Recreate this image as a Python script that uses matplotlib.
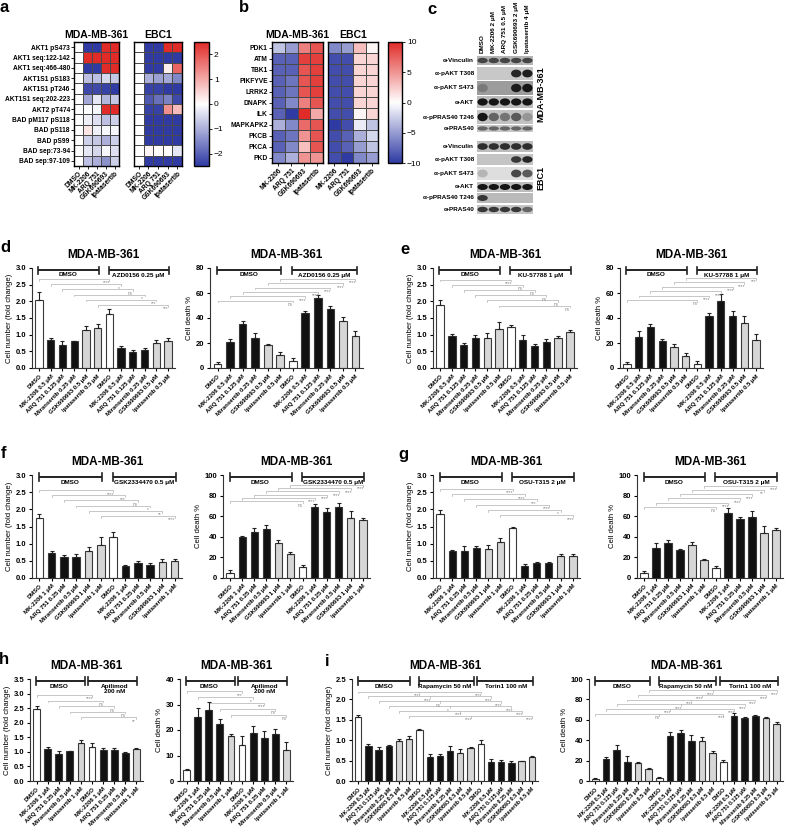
import numpy as np
import matplotlib
matplotlib.use('Agg')
import matplotlib.pyplot as plt
from matplotlib.colors import LinearSegmentedColormap
from matplotlib.patches import Rectangle, Ellipse

plt.rcParams['font.family'] = ['Liberation Sans', 'DejaVu Sans']
plt.rcParams['font.weight'] = 'bold'
plt.rcParams['axes.linewidth'] = 0.8

# ---------------- data ----------------
a_rows = ['AKT1 pS473', 'AKT1 seq:122-142', 'AKT1 seq:466-480', 'AKT1S1 pS183',
          'AKT1S1 pT246', 'AKT1S1 seq:202-223', 'AKT2 pT474', 'BAD pM117 pS118',
          'BAD pS118', 'BAD pS99', 'BAD sep:73-94', 'BAD sep:97-109']
a_cols = ['DMSO', 'MK-2206', 'ARQ 751', 'GSK690693', 'Ipatasertib']
a_mda = [[0, -2.5, -2.5, 2.5, 2.5],
         [0, 2.5, 2.5, 2.5, 2.5],
         [0, -2.5, -2.5, 2.5, 2.5],
         [0, -0.8, -0.8, -0.5, -0.7],
         [0, -2.3, -2.3, -2.4, -2.5],
         [0, -1.1, -0.3, -0.9, -0.7],
         [0, 0.0, -0.1, 2.5, 2.5],
         [0, -0.2, -0.4, -0.8, -0.6],
         [0, 0.3, -0.2, -0.1, -0.1],
         [0, -0.6, -0.7, -1.0, -0.6],
         [0, -0.3, -0.5, -0.1, -0.4],
         [0, -0.8, -1.0, -1.4, -0.6]]
a_ebc = [[0, -2.5, -2.5, 2.5, 2.5],
         [0, -2.5, -2.5, -2.5, -2.5],
         [0, -2.5, -2.5, 0.2, 1.8],
         [0, -1.0, -1.2, -1.1, -1.5],
         [0, -2.4, -2.4, -2.5, -2.5],
         [0, -2.1, -1.8, -1.6, -2.3],
         [0, -2.4, -2.4, 1.3, 0.8],
         [0, -2.5, -2.5, -2.5, -2.5],
         [0, -2.5, -2.5, -2.5, -2.5],
         [0, -2.5, -2.5, -2.5, -2.5],
         [0, 0.1, 0.05, 0.0, -0.3],
         [0, -2.5, -2.5, -2.5, -2.5]]

b_rows = ['PDK1', 'ATM', 'TBK1', 'PIKFYVE', 'LRRK2', 'DNAPK', 'ILK', 'MAPKAPK2', 'PKCB', 'PKCA', 'PKD']
b_cols = ['MK-2206', 'ARQ 751', 'GSK690693', 'Ipatasertib']
b_mda = [[-3, -5, 6, 8], [-8, -8, 9, 9], [-8, -8, 8, 9], [-8, -7, 8, 9], [-8, -7, 8, 9],
         [-8, -6, 6, 8], [-8, -10, 10, 4], [-4, -6, 7, 8], [-8, -7, 5, 8], [-8, -6, 3, 8],
         [-6, -4, 5, 5]]
b_ebc = [[-6, -5, 3, 0.5], [-9, -9, 2, 2], [-9, -9, 2, 2], [-9, -9, 2, 2], [-9, -9, 2, 2],
         [-9, -9, 2, 2], [-9, -9, 0.5, 2], [-10, -9, -1, -3], [-9, -8, -4, -2],
         [-9, -8, -5, -3], [-9, -10, -6, -5]]

blot_rows = ['α-Vinculin', 'α-pAKT T308', 'α-pAKT S473', 'α-AKT', 'α-pPRAS40 T246', 'α-PRAS40']
blot_lanes = ['DMSO', 'MK-2206 2 μM', 'ARQ 751 0.5 μM', 'GSK690693 2 μM', 'Ipatasertib 4 μM']
mda_bands = [[0.7, 0.7, 0.7, 0.7, 0.7], [0, 0, 0, 0.9, 0.95], [0.25, 0, 0, 0.95, 1.0],
             [1, 1, 1, 1, 1], [1, 0.55, 0.45, 0.6, 0.25], [0.55, 0.55, 0.55, 0.55, 0.55]]
ebc_bands = [[0.85, 0.85, 0.85, 0.85, 0.85], [0, 0, 0, 0.8, 0.9], [0.2, 0, 0, 0.75, 0.65],
             [1, 1, 1, 1, 1], [0.8, 0, 0, 0, 0], [0.8, 0.8, 0.8, 0.8, 0.55]]

names_05 = ['DMSO', 'MK-2206 0.5 μM', 'ARQ 751 0.125 μM', 'Miransertib 0.25 μM',
            'GSK690693 0.5 μM', 'Ipatasertib 0.5 μM']
names_1 = ['DMSO', 'MK-2206 1 μM', 'ARQ 751 0.25 μM', 'Miransertib 0.5 μM',
           'GSK690693 1 μM', 'Ipatasertib 1 μM']
names_h = ['DMSO', 'MK-2206 1 μM', 'ARQ 751 0.25 μM', 'Miransertib 0.5 μM', 'Ipatasertib 1 μM']
kinds_6 = ['w', 'k', 'k', 'k', 'g', 'g']
kinds_5 = ['w', 'k', 'k', 'k', 'g']

d_num = [2.05, 0.85, 0.70, 0.80, 1.15, 1.20, 1.63, 0.60, 0.48, 0.53, 0.75, 0.80]
d_num_err = [0.22, 0.05, 0.10, 0.02, 0.10, 0.12, 0.13, 0.06, 0.05, 0.06, 0.09, 0.10]
d_num_sig = ['****', '*', 'ns', '*', '***', '***']
d_death = [3, 21, 35, 24, 18.5, 10.5, 5.5, 44, 56, 47, 38, 26]
d_death_err = [2, 2.5, 3, 4, 0.5, 2, 2.5, 2, 2.5, 3, 3, 4]
d_death_sig = ['ns', '****', '****', '****', '****', '****']
d_groups = ['DMSO', 'AZD0156 0.25 μM']

e_num = [1.88, 0.95, 0.70, 0.90, 0.91, 1.18, 1.22, 0.83, 0.65, 0.77, 0.90, 1.07]
e_num_err = [0.15, 0.07, 0.06, 0.10, 0.13, 0.20, 0.06, 0.17, 0.08, 0.10, 0.05, 0.07]
e_num_sig = ['****', 'ns', 'ns', 'ns', 'ns', 'ns']
e_death = [3.5, 25, 32.5, 21.5, 16.5, 10, 3.5, 41.5, 54, 42, 36, 22.5]
e_death_err = [1, 4.5, 3, 2, 3, 2, 2, 2.5, 5.5, 4, 5.5, 4.5]
e_death_sig = ['ns', '****', '****', '****', '****', '***']
e_groups = ['DMSO', 'KU-57788 1 μM']

f_num = [1.75, 0.72, 0.62, 0.62, 0.80, 0.96, 1.20, 0.35, 0.43, 0.37, 0.46, 0.50]
f_num_err = [0.10, 0.08, 0.04, 0.07, 0.09, 0.23, 0.15, 0.04, 0.07, 0.08, 0.10, 0.06]
f_num_sig = ['****', '***', 'ns', '*', '**', '****']
f_death = [5, 39.5, 45, 47.5, 33.5, 23, 10.5, 68.5, 64, 68.5, 58, 56]
f_death_err = [2.5, 1, 4, 3.5, 3.5, 2.5, 2, 3.5, 3.5, 4.5, 7, 2.5]
f_death_sig = ['ns', '****', '****', '****', '****', '****']
f_groups = ['DMSO', 'GSK2334470 0.5 μM']

g_num = [1.85, 0.78, 0.78, 0.87, 0.85, 1.05, 1.45, 0.36, 0.45, 0.43, 0.64, 0.65]
g_num_err = [0.14, 0.04, 0.15, 0.07, 0.12, 0.12, 0.05, 0.05, 0.02, 0.03, 0.06, 0.04]
g_num_sig = ['****', '****', '***', '****', '*', '****']
g_death = [5, 29, 33.5, 27, 32.5, 17.5, 10, 63, 57, 59, 44, 47]
g_death_err = [1.5, 4.5, 3.5, 1, 2.5, 1, 2, 4.5, 2.5, 6, 6.5, 2]
g_death_sig = ['ns', '****', '****', '****', '**', '****']
g_groups = ['DMSO', 'OSU-T315 2 μM']

h_num = [2.48, 1.10, 0.93, 1.02, 1.32, 1.18, 1.06, 1.06, 0.97, 1.10]
h_num_err = [0.10, 0.06, 0.11, 0.02, 0.07, 0.12, 0.08, 0.08, 0.02, 0.03]
h_num_sig = ['****', 'ns', 'ns', 'ns', '**']
h_death = [4.3, 25, 28, 22.3, 17.5, 14.2, 19, 16.7, 18.5, 12.3]
h_death_err = [0.4, 3.5, 3, 2, 1, 3.3, 2.5, 3, 2, 2.8]
h_death_sig = ['***', '*', '****', 'ns', 'ns']
h_groups = ['DMSO', 'Apilimod\n200 nM']

i_num = [1.57, 0.87, 0.77, 0.85, 0.98, 1.03, 1.25, 0.60, 0.61, 0.73, 0.69, 0.81,
         0.90, 0.46, 0.47, 0.45, 0.48, 0.58]
i_num_err = [0.04, 0.03, 0.06, 0.04, 0.05, 0.08, 0.02, 0.05, 0.04, 0.12, 0.09, 0.03,
             0.10, 0.07, 0.04, 0.04, 0.02, 0.03]
i_num_sig_rapa = ['****', '****', 'ns', '*', '****', '****']
i_num_sig_torin = ['****', '****', '****', '****', '****', '****']
i_death = [2, 21.5, 30, 19, 17.5, 12, 3, 44.5, 47.5, 39, 39, 27, 18.5, 64, 61.5, 64, 62, 56]
i_death_err = [1, 2.5, 5, 6, 1.5, 0.5, 0.5, 3.5, 2.5, 6, 4.5, 2.5, 2, 2.5, 1.5, 1, 1, 2]
i_death_sig_rapa = ['ns', '****', '****', '****', '****', '****']
i_death_sig_torin = ['****', '****', '****', '****', '****', '****']
i_groups = ['DMSO', 'Rapamycin 50 nM', 'Torin1 100 nM']

# ---------------- figure ----------------
W, H = 788, 833
fig = plt.figure(figsize=(W / 100, H / 100), dpi=100)


def px(x0, y0, x1, y1):
    return [x0 / W, 1 - y1 / H, (x1 - x0) / W, (y1 - y0) / H]


cmap = LinearSegmentedColormap.from_list('bwr2', ['#2f3aa3', '#ffffff', '#e02b28'])


def heatmap(rect, vals, vmax, title, cols, rows=None):
    ax = fig.add_axes(px(*rect))
    m = ax.pcolormesh(np.array(vals, dtype=float), cmap=cmap, vmin=-vmax, vmax=vmax,
                      edgecolors='#4a4a4a', linewidth=0.6)
    ax.set_xlim(0, len(cols))
    ax.set_ylim(len(vals), 0)
    ax.set_xticks(np.arange(len(cols)) + 0.5)
    ax.set_xticklabels(cols, rotation=45, ha='right', rotation_mode='anchor', fontsize=4.8)
    if rows:
        ax.set_yticks(np.arange(len(rows)) + 0.5)
        ax.set_yticklabels(rows, fontsize=4.8)
    else:
        ax.set_yticks([])
    ax.tick_params(length=2, width=0.6, pad=1)
    ax.set_title(title, fontsize=7.5, weight='bold', pad=3)
    for s in ax.spines.values():
        s.set_linewidth(1.0)
    return m


def colorbar(mesh, rect, ticks):
    cax = fig.add_axes(px(*rect))
    cb = fig.colorbar(mesh, cax=cax, ticks=ticks)
    cb.ax.set_yticklabels([f'{t:g}'.replace('-', '\u2212') for t in ticks],
                          fontsize=6, weight='normal')
    cb.outline.set_linewidth(1.0)
    cb.ax.tick_params(length=2, width=0.6, pad=1.5)


# panel a
m = heatmap((74, 42, 119, 166), a_mda, 2.5, 'MDA-MB-361', a_cols, a_rows)
heatmap((134, 42, 182, 166), a_ebc, 2.5, 'EBC1', a_cols)
colorbar(m, (194, 42, 209, 166), [-2, -1, 0, 1, 2])

# panel b
m = heatmap((272, 42, 323, 163), b_mda, 10, 'MDA-MB-361', b_cols, b_rows)
heatmap((328, 42, 378, 163), b_ebc, 10, 'EBC1', b_cols)
colorbar(m, (388, 42, 402, 163), [-10, -5, 0, 5, 10])

# panel c: western blot
bx0, bx1 = 477, 533
ax = fig.add_axes(px(bx0, 55, bx1, 215))
ax.set_xlim(0, 5)
ax.set_ylim(215, 55)
ax.axis('off')
blocks = [(mda_bands, [(56, 65), (67, 80), (81, 95), (96, 108), (110, 124), (125, 132)],
           ['#b4b4b4', '#c8c8c8', '#9c9c9c', '#bcbcbc', '#c2c2c2', '#c6c6c6'], 'MDA-MB-361'),
          (ebc_bands, [(141, 152), (154, 165), (167, 180), (182, 192), (193, 203), (205, 214)],
           ['#bcbcbc', '#c4c4c4', '#dedede', '#bcbcbc', '#bababa', '#c6c6c6'], 'EBC1')]
for bands, strips, bgs, cell in blocks:
    for name, band, (t, b), bg in zip(blot_rows, bands, strips, bgs):
        ax.add_patch(Rectangle((0, t), 5, b - t, color=bg, lw=0))
        for l, v in enumerate(band):
            if v > 0:
                ax.add_patch(Ellipse((l + 0.5, (t + b) / 2), 0.92, (b - t) * 0.6,
                                     color='#151515', alpha=v, lw=0))
        fig.text((bx0 - 3) / W, 1 - (t + b) / 2 / H, name, ha='right', va='center', fontsize=4.6)
    mid = (strips[0][0] + strips[-1][1]) / 2
    fig.text((bx1 + 8) / W, 1 - mid / H, cell, rotation=90, ha='center', va='center', fontsize=6.5)
for l, name in enumerate(blot_lanes):
    fig.text((bx0 + (l + 0.5) * (bx1 - bx0) / 5) / W, 1 - 53 / H, name, rotation=90,
             ha='center', va='bottom', fontsize=4.6)

# bar panels
fills = {'w': 'white', 'k': '#111111', 'g': '#d6d6d6'}


def bar_panel(rect, vals, errs, names, kinds, groups, sigs, ymax, ystep, ylabel,
              y0, dy, joined=(), tick_fs=4.3):
    ax = fig.add_axes(px(*rect))
    n = len(vals)
    x = np.arange(n)
    ax.bar(x, vals, width=0.62, color=[fills[k] for k in kinds], edgecolor='#3a3a3a',
           lw=0.8, zorder=2)
    ax.errorbar(x, vals, yerr=[np.zeros(n), errs], fmt='none', ecolor='#222222',
                elinewidth=0.8, capsize=1.6, capthick=0.8, zorder=3)
    ax.set_xlim(-0.6, n - 0.4)
    ax.set_ylim(0, ymax)
    ticks = np.arange(0, ymax + ystep / 2, ystep)
    ax.set_yticks(ticks)
    ax.set_yticklabels([f'{t:.1f}' if ystep < 1 else f'{t:.0f}' for t in ticks], fontsize=5.5)
    ax.set_xticks(x)
    ax.set_xticklabels(names, rotation=45, ha='right', rotation_mode='anchor', fontsize=tick_fs)
    ax.tick_params(length=2.5, width=0.8, pad=1.5)
    ax.spines[['top', 'right']].set_visible(False)
    ax.spines[['left', 'bottom']].set_color('#333333')
    ax.set_ylabel(ylabel, fontsize=5.6, labelpad=2)
    ax.set_title('MDA-MB-361', fontsize=8.5, weight='bold', pad=7)
    per = n // len(groups)
    # group headers
    hy = ymax * 0.98
    cap = ymax * 0.035
    for gi, gname in enumerate(groups):
        a, b = gi * per, gi * per + per - 1
        start = a - 0.35 if gi - 1 in joined else a - 0.05
        end = b + 0.35 if gi in joined else b + 0.1
        ax.plot([start, end], [hy, hy], color='#222222', lw=1.4, clip_on=False,
                solid_capstyle='butt')
        for xe in (start, end):
            ax.plot([xe, xe], [hy - cap, hy + cap], color='#222222', lw=1.2, clip_on=False)
        ax.text((a + b) / 2, ymax * 0.955, gname, ha='center', va='top', fontsize=4.6,
                linespacing=1.2)
    # significance brackets
    t = ymax * 0.018
    for k in range(per):
        yk = y0 + k * dy
        targets = [k + per * g for g in range(1, len(groups))]
        ax.plot([k, k, targets[-1], targets[-1]], [yk - t, yk, yk, yk - t],
                color='#b0b0b0', lw=0.5, zorder=1)
        for g, tg in enumerate(targets):
            if tg != targets[-1]:
                ax.plot([tg, tg], [yk, yk - t], color='#b0b0b0', lw=0.5, zorder=1)
            ax.text(tg - 0.2, yk - t * 0.8, sigs[g][k], ha='center', va='top',
                    fontsize=3.4, color='#8a8a8a', weight='normal')
    return ax


lbl_num = 'Cell number (fold change)'
lbl_death = 'Cell death %'

bar_panel((32, 268, 175, 368), d_num, d_num_err, names_05 * 2, kinds_6 * 2, d_groups,
          [d_num_sig], 3.0, 0.5, lbl_num, 2.67, -0.155)
bar_panel((210, 268, 363, 368), d_death, d_death_err, names_05 * 2, kinds_6 * 2, d_groups,
          [d_death_sig], 80, 20, lbl_death, 54, 3.45)
bar_panel((433, 268, 577, 368), e_num, e_num_err, names_05 * 2, kinds_6 * 2, e_groups,
          [e_num_sig], 3.0, 0.5, lbl_num, 2.65, -0.155)
bar_panel((620, 268, 763, 368), e_death, e_death_err, names_05 * 2, kinds_6 * 2, e_groups,
          [e_death_sig], 80, 20, lbl_death, 54.5, 3.5)

bar_panel((32, 475, 182, 578), f_num, f_num_err, names_1 * 2, kinds_6 * 2, f_groups,
          [f_num_sig], 3.0, 0.5, lbl_num, 2.56, -0.15)
bar_panel((223, 475, 370, 578), f_death, f_death_err, names_1 * 2, kinds_6 * 2, f_groups,
          [f_death_sig], 100, 20, lbl_death, 74.5, 3.2)
bar_panel((433, 475, 580, 578), g_num, g_num_err, names_1 * 2, kinds_6 * 2, g_groups,
          [g_num_sig], 3.0, 0.5, lbl_num, 2.6, -0.155)
bar_panel((637, 475, 783, 578), g_death, g_death_err, names_1 * 2, kinds_6 * 2, g_groups,
          [g_death_sig], 100, 20, lbl_death, 69, 4.1)

bar_panel((30, 679, 143, 781), h_num, h_num_err, names_h * 2, kinds_5 * 2, h_groups,
          [h_num_sig], 3.5, 0.5, lbl_num, 2.95, -0.19, joined=(0,))
bar_panel((180, 679, 293, 781), h_death, h_death_err, names_h * 2, kinds_5 * 2, h_groups,
          [h_death_sig], 40, 10, lbl_death, 35.2, -2.3, joined=(0,))
bar_panel((352, 679, 538, 781), i_num, i_num_err, names_05 * 3, kinds_6 * 3, i_groups,
          [i_num_sig_rapa, i_num_sig_torin], 2.5, 0.5, lbl_num, 2.19, -0.118, joined=(1,),
          tick_fs=3.9)
bar_panel((589, 679, 783, 781), i_death, i_death_err, names_05 * 3, kinds_6 * 3, i_groups,
          [i_death_sig_rapa, i_death_sig_torin], 100, 20, lbl_death, 66, 4.6, joined=(1,),
          tick_fs=3.9)

# panel letters
for letter, (lx, ly) in {'a': (4, 8), 'b': (244, 8), 'c': (432, 10), 'd': (5, 248),
                         'e': (405, 250), 'f': (4, 453), 'g': (403, 455), 'h': (4, 660),
                         'i': (327, 662)}.items():
    fig.text(lx / W, 1 - ly / H, letter, fontsize=12, weight='bold', ha='center', va='center')

fig.savefig('out.png', dpi=100)
